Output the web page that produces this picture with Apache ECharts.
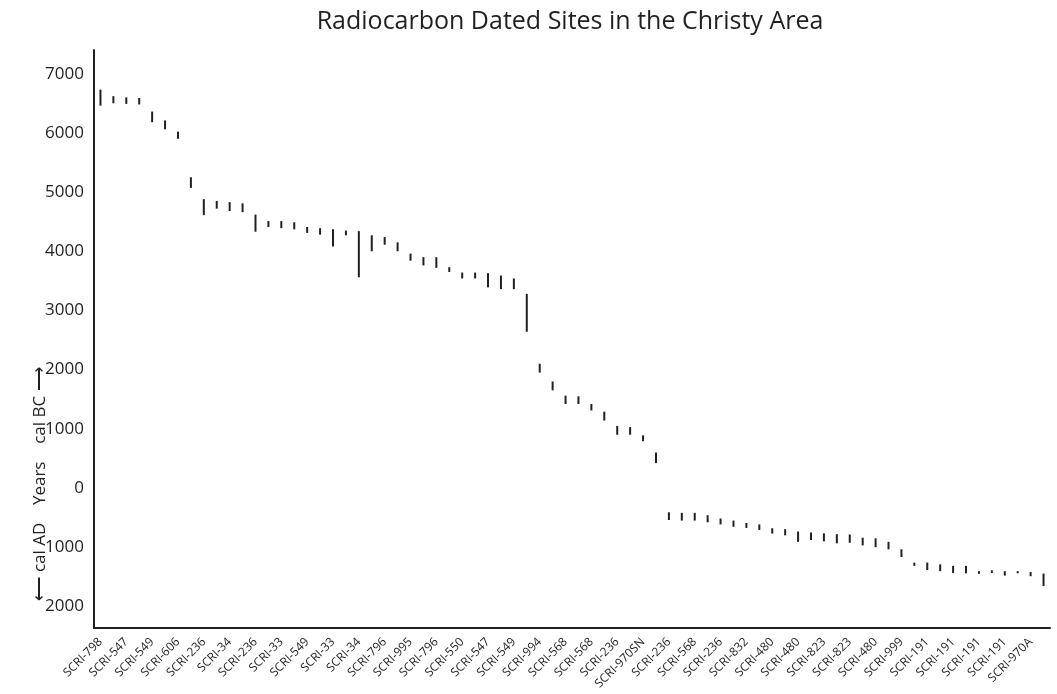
<!DOCTYPE html>
<html>
<head>
<meta charset="utf-8">
<script src="https://cdn.jsdelivr.net/npm/echarts@6/dist/echarts.min.js"></script>
<style>
  html, body { margin: 0; padding: 0; background: #fff; }
  #chart { width: 1057px; height: 694px; }
</style>
</head>
<body>
<div id="chart"></div>
<script>
// site names under every second date range
const siteLabels = ['SCRI-798', 'SCRI-547', 'SCRI-549', 'SCRI-606', 'SCRI-236', 'SCRI-34', 'SCRI-236', 'SCRI-33',
  'SCRI-549', 'SCRI-33', 'SCRI-34', 'SCRI-796', 'SCRI-995', 'SCRI-796', 'SCRI-550', 'SCRI-547', 'SCRI-549',
  'SCRI-994', 'SCRI-568', 'SCRI-568', 'SCRI-236', 'SCRI-970SN', 'SCRI-236', 'SCRI-568', 'SCRI-236', 'SCRI-832',
  'SCRI-480', 'SCRI-480', 'SCRI-823', 'SCRI-823', 'SCRI-480', 'SCRI-999', 'SCRI-191', 'SCRI-191', 'SCRI-191',
  'SCRI-191', 'SCRI-970A']

// calibrated ranges, BC positive / AD negative
const rangeLow = [6460, 6500, 6490, 6480, 6180, 6060, 5900, 5070, 4610, 4720, 4680, 4660, 4330, 4410, 4390, 4370,
  4310, 4280, 4080, 4270, 3560, 4000, 4110, 4000, 3840, 3760, 3720, 3650, 3540, 3540, 3390, 3360, 3360, 2640,
  1950, 1650, 1420, 1420, 1310, 1140, 900, 900, 790, 420,
  -540, -550, -550, -580, -615, -655, -675, -710, -770, -800, -910, -880, -900, -935, -925, -970, -1000, -1035,
  -1165, -1315, -1385, -1405, -1435, -1440, -1450, -1435, -1480, -1440, -1490, -1655]
const rangeHigh = [6730, 6620, 6600, 6590, 6360, 6210, 6020, 5250, 4880, 4850, 4830, 4810, 4620, 4510, 4510, 4490,
  4410, 4390, 4370, 4350, 4340, 4270, 4240, 4150, 3960, 3900, 3900, 3730, 3640, 3640, 3630, 3590, 3540, 3280,
  2100, 1800, 1560, 1550, 1420, 1290, 1050, 1030, 890, 600,
  -410, -420, -420, -460, -515, -550, -590, -615, -680, -695, -735, -750, -765, -780, -785, -840, -850, -910,
  -1035, -1260, -1260, -1290, -1315, -1315, -1405, -1390, -1405, -1405, -1420, -1445]

const yTicks = [-2000, -1000, 0, 1000, 2000, 3000, 4000, 5000, 6000, 7000]

const categories = rangeLow.map((v, i) => (i % 2 === 0 ? siteLabels[i / 2] : ''))
const seriesData = rangeLow.map((v, i) => [i, v, rangeHigh[i]])

const chart = echarts.init(document.getElementById('chart'))
const font = 'Open Sans'

chart.setOption({
  animation: false,
  title: {
    text: 'Radiocarbon Dated Sites in the Christy Area',
    left: 565,
    top: 4,
    textAlign: 'center',
    textStyle: { fontFamily: font, fontSize: 25, fontWeight: 'normal', color: '#231f20' }
  },
  grid: { left: 94, right: 7, top: 50, bottom: 66 },
  xAxis: {
    type: 'category',
    data: categories,
    axisLine: { onZero: false, lineStyle: { color: '#231f20', width: 2 } },
    axisTick: { show: false },
    axisLabel: { interval: 0, rotate: 45, margin: 12, fontFamily: font, fontSize: 12, color: '#231f20' }
  },
  yAxis: {
    type: 'value',
    min: -2365,
    max: 7400,
    splitLine: { show: false },
    axisTick: { show: false },
    axisLine: { show: true, lineStyle: { color: '#231f20', width: 2 } },
    axisLabel: {
      customValues: yTicks,
      margin: 10,
      fontFamily: font,
      fontSize: 17,
      color: '#231f20',
      formatter: (v) => String(Math.abs(v))
    }
  },
  graphic: [{
    type: 'text',
    x: 40,
    y: 484,
    rotation: Math.PI / 2,
    style: {
      text: '\u27f5 cal AD    Years    cal BC \u27f6',
      fontFamily: font,
      fontSize: 17,
      fill: '#231f20',
      textAlign: 'center',
      textVerticalAlign: 'middle'
    }
  }],
  series: [{
    type: 'custom',
    data: seriesData,
    encode: { x: 0, y: [1, 2] },
    renderItem: (params, api) => {
      const p1 = api.coord([api.value(0), api.value(1)])
      const p2 = api.coord([api.value(0), api.value(2)])
      return {
        type: 'line',
        shape: { x1: p1[0], y1: p1[1], x2: p2[0], y2: p2[1] },
        style: { stroke: '#231f20', lineWidth: 2 }
      }
    }
  }]
})
</script>
</body>
</html>
